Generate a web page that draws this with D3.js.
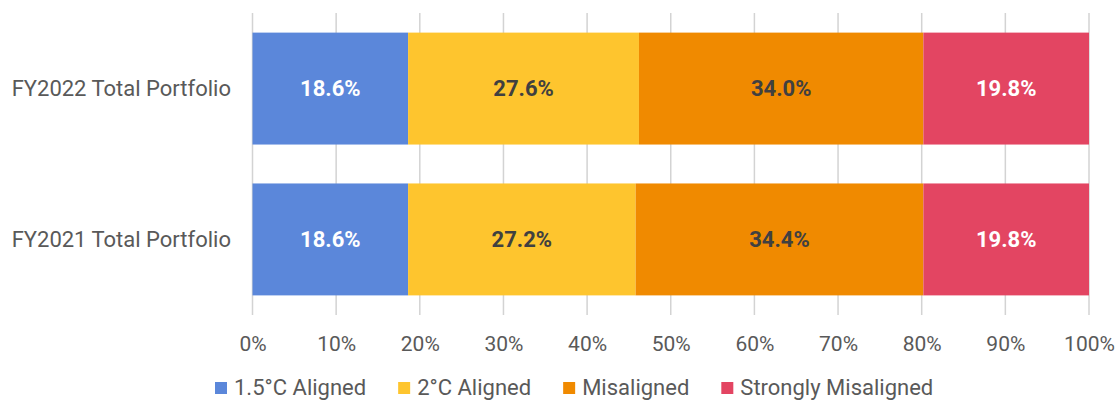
<!DOCTYPE html>
<html>
<head>
<meta charset="utf-8">
<script src="https://cdn.jsdelivr.net/npm/d3@7"></script>
<style>
  html, body { margin: 0; padding: 0; background: #fff; }
  svg { display: block; font-family: Roboto, "Noto Sans", sans-serif; }
</style>
</head>
<body>
<svg id="chart" width="1117" height="402"></svg>
<script>
// Portfolio temperature alignment, share of total portfolio per year
const categories = ["FY2022 Total Portfolio", "FY2021 Total Portfolio"];
const seriesNames = ["1.5°C Aligned", "2°C Aligned", "Misaligned", "Strongly Misaligned"];
const aligned15 = [18.6, 18.6];
const aligned2 = [27.6, 27.2];
const misaligned = [34.0, 34.4];
const stronglyMisaligned = [19.8, 19.8];
const tickValues = [0, 10, 20, 30, 40, 50, 60, 70, 80, 90, 100];

const colors = ["#5B87DA", "#FEC52E", "#F08A00", "#E34562"];
const labelColors = ["#ffffff", "#404040", "#404040", "#ffffff"];

const rows = categories.map((c, i) => ({
  category: c,
  [seriesNames[0]]: aligned15[i],
  [seriesNames[1]]: aligned2[i],
  [seriesNames[2]]: misaligned[i],
  [seriesNames[3]]: stronglyMisaligned[i]
}));

const svg = d3.select("#chart");
const x = d3.scaleLinear().domain([0, 100]).range([252.5, 1089]);
const y = d3.scaleBand().domain(categories).range([13, 315])
  .paddingInner(0.258).paddingOuter(0.13);

// vertical gridlines
svg.append("g").selectAll("line").data(tickValues).join("line")
  .attr("x1", d => x(d)).attr("x2", d => x(d))
  .attr("y1", 13).attr("y2", 315)
  .attr("stroke", "#d3d3d3").attr("stroke-width", 1.5);

const stacked = d3.stack().keys(seriesNames)(rows);

const layers = svg.append("g").selectAll("g").data(stacked).join("g")
  .attr("fill", (d, i) => colors[i]);

layers.selectAll("rect").data(d => d).join("rect")
  .attr("x", d => x(d[0]))
  .attr("width", d => x(d[1]) - x(d[0]))
  .attr("y", d => y(d.data.category))
  .attr("height", y.bandwidth());

// value labels inside segments
svg.append("g").selectAll("g").data(stacked).join("g")
  .each(function(layer, i) {
    d3.select(this).selectAll("text").data(layer).join("text")
      .attr("x", d => (x(d[0]) + x(d[1])) / 2)
      .attr("y", d => y(d.data.category) + y.bandwidth() / 2)
      .attr("dy", "0.36em")
      .attr("text-anchor", "middle")
      .attr("font-size", 22)
      .attr("font-weight", "bold")
      .attr("fill", labelColors[i])
      .text(d => (d[1] - d[0]).toFixed(1) + "%");
  });

// category axis labels
svg.append("g").selectAll("text").data(categories).join("text")
  .attr("x", 231)
  .attr("y", d => y(d) + y.bandwidth() / 2)
  .attr("dy", "0.36em")
  .attr("text-anchor", "end")
  .attr("font-size", 22)
  .attr("fill", "#595959")
  .text(d => d);

// percentage axis
const xAxis = d3.axisBottom(x).tickValues(tickValues).tickSize(0).tickPadding(0)
  .tickFormat(d => d + "%");
const gx = svg.append("g").attr("transform", "translate(0,343)").call(xAxis);
gx.select(".domain").remove();
gx.selectAll("text")
  .attr("dy", "0.36em")
  .attr("font-size", 21)
  .attr("font-family", "Roboto, 'Noto Sans', sans-serif")
  .attr("fill", "#595959");

// legend
const legend = svg.append("g");
let lx = 215;
seriesNames.forEach((name, i) => {
  const item = legend.append("g").attr("transform", `translate(${lx},0)`);
  item.append("rect").attr("x", 0).attr("y", 382).attr("width", 12).attr("height", 12)
    .attr("fill", colors[i]);
  const t = item.append("text").attr("x", 19).attr("y", 387).attr("dy", "0.36em")
    .attr("font-size", 22).attr("fill", "#595959").text(name);
  lx += 19 + t.node().getComputedTextLength() + 32;
});
</script>
</body>
</html>
